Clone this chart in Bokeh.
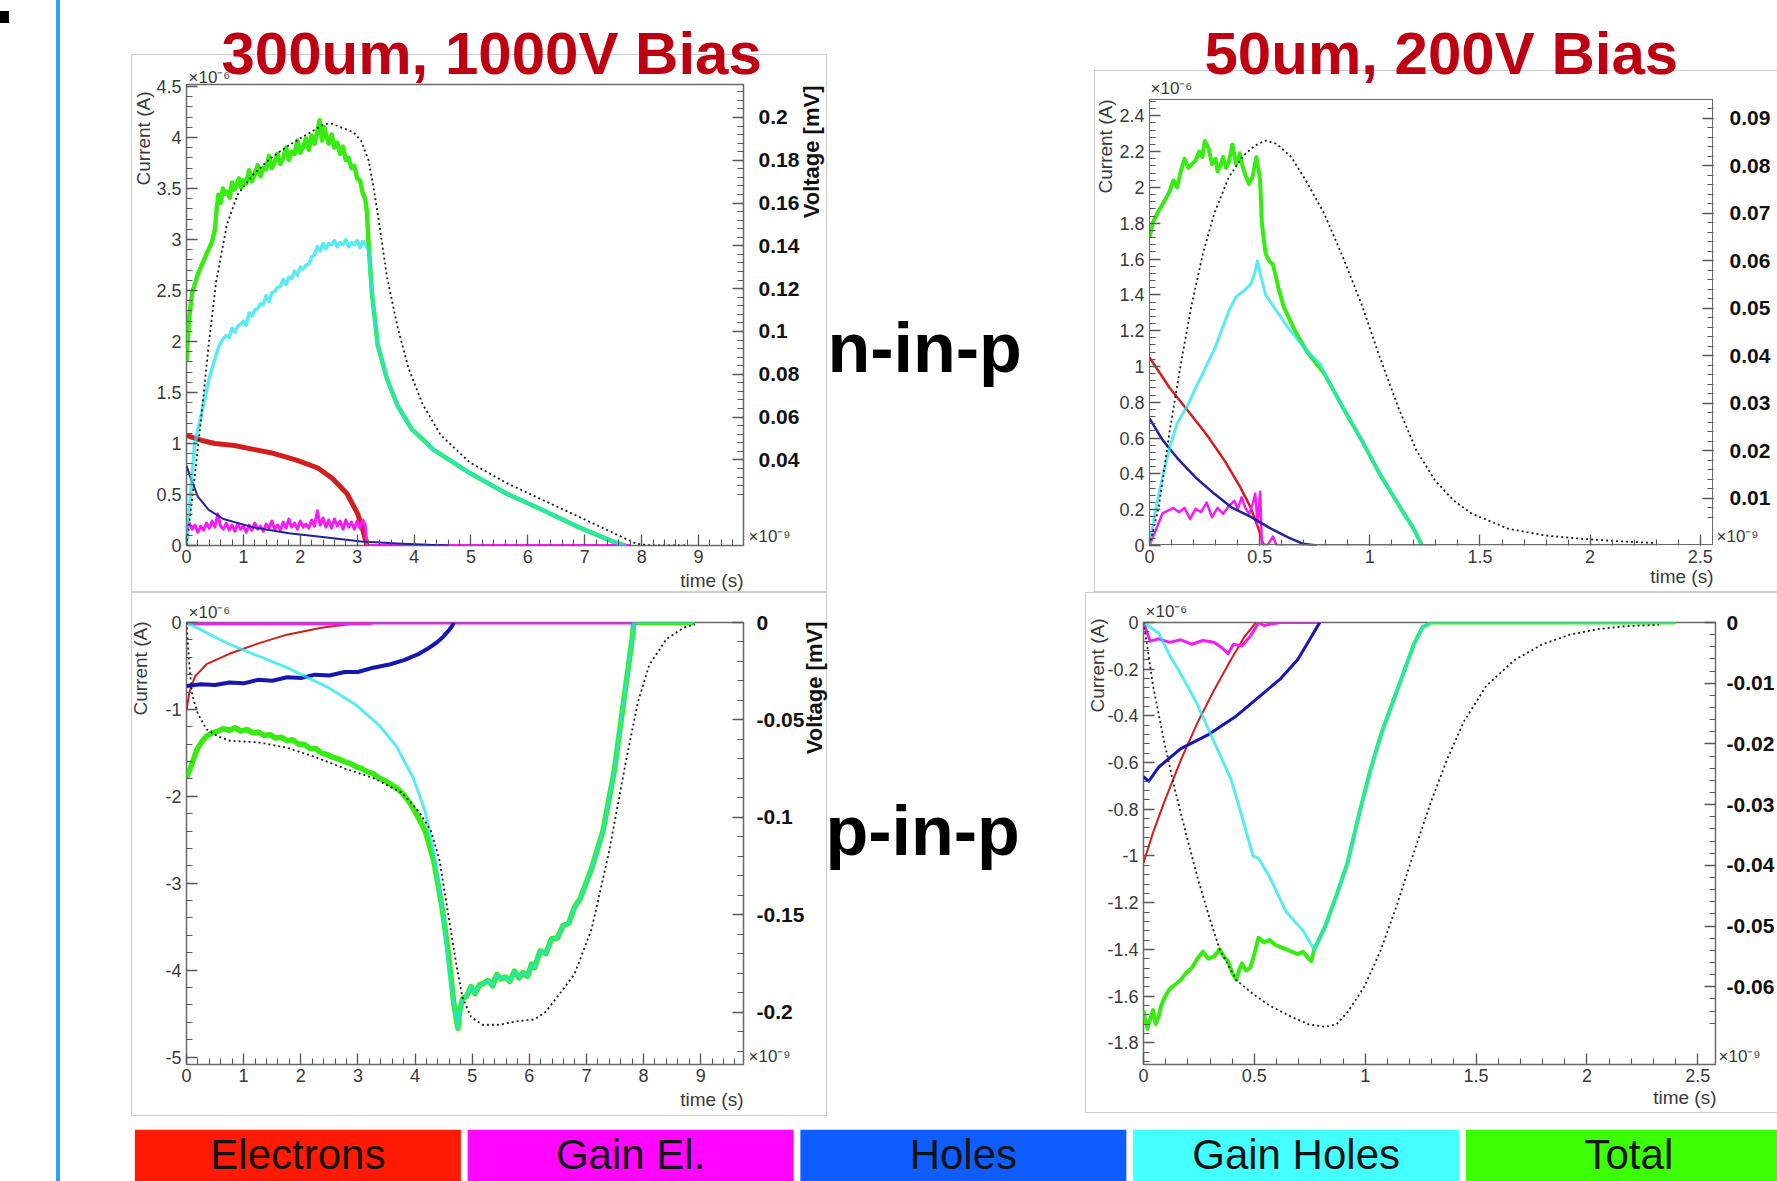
import math
import numpy as np
from bokeh.plotting import figure
from bokeh.models import (Range1d, LinearAxis, SingleIntervalTicker, FixedTicker,
                          PrintfTickFormatter, Label, LabelSet, Div, ColumnDataSource,
                          InlineStyleSheet, Spacer)
from bokeh.layouts import row, column
from bokeh.embed import file_html
from bokeh.resources import INLINE
from bokeh.core.properties import value

# ---------------- DATA (time in ns, current in uA, voltage in mV) ----------------
# n-in-p, 300um, 1000V
tl_green_t = [0.00, 0.04, 0.10, 0.20, 0.33, 0.45, 0.50, 0.53, 0.56, 0.60, 0.64, 0.68, 0.72, 0.76, 0.80,
              0.84, 0.88, 0.92, 0.96, 1.00, 1.05, 1.10, 1.15, 1.20, 1.25, 1.30, 1.35, 1.40, 1.45, 1.50,
              1.55, 1.60, 1.65, 1.70, 1.75, 1.80, 1.85, 1.90, 1.95, 2.00, 2.05, 2.10, 2.15, 2.20, 2.25,
              2.30, 2.34, 2.38, 2.42, 2.46, 2.50, 2.55, 2.60, 2.65, 2.70, 2.75, 2.80, 2.85, 2.90, 2.95,
              3.00, 3.05, 3.10, 3.14, 3.17, 3.20, 3.26, 3.36, 3.52, 3.71, 3.96, 4.34, 4.98, 5.62, 6.25,
              6.89, 7.53, 7.72]
tl_green_i = [1.80, 2.20, 2.48, 2.66, 2.83, 2.98, 3.10, 3.30, 3.44, 3.36, 3.50, 3.45, 3.47, 3.41, 3.56,
              3.49, 3.53, 3.60, 3.51, 3.58, 3.55, 3.68, 3.57, 3.64, 3.73, 3.62, 3.70, 3.69, 3.82, 3.70,
              3.76, 3.84, 3.74, 3.80, 3.90, 3.78, 3.86, 3.84, 3.97, 3.85, 3.91, 3.99, 3.88, 4.02, 3.94,
              4.06, 4.17, 3.97, 4.10, 4.01, 3.94, 4.03, 3.90, 3.95, 3.84, 3.91, 3.78, 3.80, 3.70, 3.72,
              3.60, 3.58, 3.45, 3.40, 3.28, 2.96, 2.47, 1.97, 1.64, 1.37, 1.14, 0.94, 0.71, 0.51, 0.35,
              0.18, 0.03, 0.00]
tl_cyan_t = [0.00, 0.14, 0.27, 0.40, 0.52, 0.58, 0.65, 0.70, 0.75, 0.80, 0.85, 0.90, 0.95, 1.00, 1.05,
             1.10, 1.15, 1.20, 1.25, 1.30, 1.35, 1.40, 1.45, 1.50, 1.55, 1.60, 1.65, 1.70, 1.75, 1.80,
             1.85, 1.90, 1.95, 2.00, 2.05, 2.10, 2.15, 2.20, 2.25, 2.30, 2.35, 2.40, 2.45, 2.50, 2.55,
             2.60, 2.65, 2.70, 2.75, 2.80, 2.85, 2.90, 2.95, 3.00, 3.05, 3.10, 3.15, 3.20, 3.26, 3.36,
             3.52, 3.71, 3.96, 4.34, 4.98, 5.62, 6.25, 6.89, 7.53, 7.72]
tl_cyan_i = [0.00, 0.98, 1.31, 1.64, 1.87, 1.97, 2.03, 2.06, 2.04, 2.13, 2.09, 2.15, 2.17, 2.20, 2.16,
             2.28, 2.25, 2.31, 2.32, 2.37, 2.36, 2.45, 2.39, 2.48, 2.49, 2.53, 2.54, 2.61, 2.56, 2.63,
             2.62, 2.69, 2.65, 2.73, 2.71, 2.75, 2.76, 2.83, 2.85, 2.93, 2.89, 2.96, 2.91, 2.96, 2.95,
             2.99, 2.93, 2.97, 2.95, 3.00, 2.93, 2.97, 2.95, 2.99, 2.92, 2.98, 2.95, 2.90, 2.47, 1.97,
             1.64, 1.37, 1.14, 0.94, 0.71, 0.51, 0.35, 0.18, 0.03, 0.00]
tl_red_t = [0.00, 0.10, 0.27, 0.50, 0.84, 1.20, 1.48, 1.92, 2.31, 2.56, 2.82, 3.01, 3.10, 3.17]
tl_red_i = [1.08, 1.06, 1.03, 1.00, 0.98, 0.94, 0.91, 0.84, 0.76, 0.66, 0.51, 0.31, 0.15, 0.00]
tl_blue_t = [0.00, 0.08, 0.20, 0.39, 0.65, 1.16, 1.80, 2.43, 3.07, 3.71, 4.34, 4.60]
tl_blue_i = [0.78, 0.65, 0.48, 0.35, 0.26, 0.18, 0.12, 0.08, 0.04, 0.02, 0.005, 0.00]
tl_mag_t = [0.00, 0.05, 0.10, 0.15, 0.20, 0.25, 0.30, 0.35, 0.40, 0.45, 0.50, 0.55, 0.60, 0.65, 0.70,
            0.75, 0.80, 0.85, 0.90, 0.95, 1.00, 1.05, 1.10, 1.15, 1.20, 1.25, 1.30, 1.35, 1.40, 1.45,
            1.50, 1.55, 1.60, 1.65, 1.70, 1.75, 1.80, 1.85, 1.90, 1.95, 2.00, 2.05, 2.10, 2.15, 2.20,
            2.25, 2.30, 2.35, 2.40, 2.45, 2.50, 2.55, 2.60, 2.65, 2.70, 2.75, 2.80, 2.85, 2.90, 2.95,
            3.00, 3.05, 3.10, 3.14, 3.17, 7.80]
tl_mag_i = [0.14, 0.22, 0.16, 0.20, 0.13, 0.19, 0.15, 0.22, 0.17, 0.24, 0.18, 0.31, 0.19, 0.16, 0.22,
            0.15, 0.20, 0.14, 0.21, 0.16, 0.19, 0.13, 0.20, 0.15, 0.22, 0.16, 0.19, 0.14, 0.21, 0.17,
            0.24, 0.16, 0.20, 0.15, 0.23, 0.17, 0.26, 0.18, 0.22, 0.16, 0.24, 0.18, 0.21, 0.17, 0.25,
            0.19, 0.34, 0.20, 0.27, 0.18, 0.25, 0.17, 0.26, 0.19, 0.24, 0.16, 0.25, 0.18, 0.23, 0.16,
            0.24, 0.17, 0.25, 0.20, 0.00, 0.00]
tl_volt_t = [0.00, 0.14, 0.27, 0.39, 0.52, 0.71, 0.90, 1.16, 1.48, 1.80, 2.11, 2.43, 2.56, 2.75, 2.94,
             3.07, 3.20, 3.29, 3.39, 3.52, 3.71, 3.90, 4.15, 4.47, 4.98, 5.62, 6.25, 6.89, 7.53, 7.91,
             8.17, 8.80]
tl_volt_v = [0.000, 0.031, 0.0625, 0.094, 0.123, 0.150, 0.164, 0.173, 0.181, 0.187, 0.192, 0.197, 0.197,
             0.195, 0.193, 0.189, 0.180, 0.167, 0.150, 0.126, 0.102, 0.083, 0.066, 0.0515, 0.0388,
             0.0293, 0.0214, 0.0135, 0.0055, 0.0008, 0.0, 0.0]

# n-in-p, 50um, 200V
tr_green_t = [0.000, 0.017, 0.042, 0.075, 0.092, 0.109, 0.125, 0.142, 0.159, 0.176, 0.192, 0.209, 0.226,
              0.240, 0.251, 0.268, 0.284, 0.300, 0.309, 0.322, 0.334, 0.347, 0.360, 0.376, 0.393, 0.410,
              0.422, 0.435, 0.452, 0.468, 0.485, 0.495, 0.502, 0.510, 0.527, 0.543, 0.560, 0.574, 0.585,
              0.610, 0.660, 0.711, 0.761, 0.794, 0.878, 0.962, 1.045, 1.129, 1.196, 1.237]
tr_green_i = [1.72, 1.81, 1.87, 1.94, 1.98, 2.04, 2.00, 2.09, 2.16, 2.11, 2.13, 2.15, 2.20,
              2.17, 2.26, 2.22, 2.13, 2.16, 2.09, 2.12, 2.17, 2.11, 2.14, 2.24, 2.13, 2.19,
              2.12, 2.07, 2.02, 2.06, 2.17, 2.10, 2.04, 1.80, 1.63, 1.59, 1.57, 1.50, 1.44,
              1.33, 1.20, 1.09, 1.01, 0.96, 0.77, 0.59, 0.40, 0.23, 0.10, 0.00]
tr_cyan_t = [0.000, 0.025, 0.059, 0.092, 0.125, 0.176, 0.209, 0.242, 0.276, 0.293, 0.326, 0.360, 0.393,
             0.426, 0.460, 0.477, 0.490, 0.502, 0.527, 0.577, 0.627, 0.711, 0.778, 0.794, 0.878, 0.962,
             1.045, 1.129, 1.196, 1.237, 2.300]
tr_cyan_i = [0.00, 0.18, 0.38, 0.55, 0.68, 0.79, 0.88, 0.96, 1.05, 1.09, 1.20, 1.31, 1.39,
             1.42, 1.46, 1.52, 1.59, 1.52, 1.40, 1.31, 1.22, 1.09, 1.01, 0.96, 0.77, 0.59,
             0.40, 0.23, 0.10, 0.00, 0.00]
tr_red_t = [0.000, 0.092, 0.176, 0.259, 0.343, 0.410, 0.460, 0.493, 0.518]
tr_red_i = [1.05, 0.88, 0.75, 0.62, 0.47, 0.33, 0.21, 0.10, 0.00]
tr_blue_t = [0.000, 0.059, 0.125, 0.209, 0.293, 0.376, 0.460, 0.543, 0.627, 0.694, 0.760]
tr_blue_i = [0.71, 0.59, 0.49, 0.38, 0.29, 0.21, 0.16, 0.10, 0.047, 0.01, 0.00]
tr_mag_t = [0.000, 0.033, 0.059, 0.084, 0.109, 0.134, 0.159, 0.184, 0.209, 0.234, 0.259, 0.284, 0.309,
            0.334, 0.360, 0.385, 0.401, 0.418, 0.435, 0.452, 0.468, 0.480, 0.490, 0.502, 0.510, 0.535,
            0.560, 0.577, 1.300]
tr_mag_i = [0.00, 0.10, 0.18, 0.195, 0.21, 0.186, 0.21, 0.149, 0.205, 0.186, 0.24, 0.158, 0.21,
            0.177, 0.22, 0.25, 0.205, 0.27, 0.21, 0.177, 0.23, 0.29, 0.12, 0.30, 0.01, 0.00,
            0.05, 0.00, 0.00]
tr_volt_t = [0.000, 0.042, 0.092, 0.142, 0.192, 0.242, 0.293, 0.360, 0.426, 0.477, 0.527, 0.577, 0.644,
             0.711, 0.794, 0.878, 0.962, 1.045, 1.129, 1.212, 1.296, 1.380, 1.463, 1.630, 1.798, 1.965,
             2.132, 2.299]
tr_volt_v = [0.0, 0.0081, 0.0242, 0.0382, 0.0509, 0.0614, 0.0698, 0.0776, 0.0821, 0.0842, 0.0853, 0.0846,
             0.0818, 0.0768, 0.0698, 0.0607, 0.0509, 0.0397, 0.0291, 0.0200, 0.0137, 0.0095, 0.0067,
             0.0035, 0.0021, 0.0014, 0.0009, 0.0005]

# p-in-p, 300um, 1000V
bl_green_t = [0.00, 0.05, 0.10, 0.15, 0.20, 0.28, 0.35, 0.45, 0.55, 0.65, 0.75, 0.85, 0.95, 1.06, 1.16,
              1.26, 1.36, 1.46, 1.56, 1.66, 1.76, 1.86, 1.96, 2.06, 2.16, 2.26, 2.36, 2.46, 2.56, 2.66,
              2.76, 2.86, 2.97, 3.07, 3.17, 3.27, 3.37, 3.47, 3.57, 3.67, 3.77, 3.87, 3.97, 4.07, 4.18,
              4.25, 4.33, 4.40, 4.48, 4.58, 4.68, 4.75, 4.78, 4.83, 4.90, 4.98, 5.05, 5.13, 5.20, 5.28,
              5.36, 5.43, 5.50, 5.58, 5.66, 5.74, 5.82, 5.89, 5.97, 6.04, 6.09, 6.19, 6.29, 6.39, 6.49,
              6.59, 6.69, 6.79, 6.89, 7.09, 7.29, 7.49, 7.65, 7.80, 7.83, 8.90]
bl_green_i = [-1.79, -1.70, -1.62, -1.52, -1.44, -1.36, -1.31, -1.27, -1.25, -1.22, -1.24, -1.21, -1.25,
              -1.23, -1.27, -1.26, -1.30, -1.29, -1.33, -1.32, -1.36, -1.35, -1.40, -1.40, -1.45, -1.45,
              -1.50, -1.52, -1.55, -1.57, -1.60, -1.62, -1.66, -1.68, -1.72, -1.74, -1.79, -1.82, -1.86,
              -1.90, -1.96, -2.04, -2.14, -2.26, -2.40, -2.56, -2.75, -3.00, -3.31, -3.79, -4.39, -4.67,
              -4.48, -4.33, -4.30, -4.19, -4.27, -4.17, -4.15, -4.12, -4.18, -4.05, -4.10, -4.08, -4.13,
              -4.01, -4.09, -4.03, -4.07, -3.93, -3.97, -3.78, -3.81, -3.64, -3.63, -3.49, -3.46, -3.28,
              -3.18, -2.83, -2.40, -1.70, -0.92, -0.19, 0.00, 0.00]
bl_cyan_t = [0.00, 0.75, 1.76, 2.46, 2.97, 3.37, 3.67, 3.97, 4.18, 4.33, 4.48, 4.63, 4.75, 4.78, 4.83,
             4.90, 4.98, 5.05, 5.13, 5.20, 5.28, 5.36, 5.43, 5.50, 5.58, 5.66, 5.74, 5.82, 5.89, 5.97,
             6.04, 6.09, 6.19, 6.29, 6.39, 6.49, 6.59, 6.69, 6.79, 6.89, 7.09, 7.29, 7.49, 7.65, 7.80,
             7.83, 8.90]
bl_cyan_i = [0.00, -0.25, -0.52, -0.74, -0.95, -1.18, -1.42, -1.79, -2.18, -2.66, -3.31, -4.18, -4.67,
             -4.48, -4.33, -4.30, -4.19, -4.27, -4.17, -4.15, -4.12, -4.18, -4.05, -4.10, -4.08, -4.13,
             -4.01, -4.09, -4.03, -4.07, -3.93, -3.97, -3.78, -3.81, -3.64, -3.63, -3.49, -3.46, -3.28,
             -3.18, -2.83, -2.40, -1.70, -0.92, -0.19, 0.00, 0.00]
bl_red_t = [0.00, 0.05, 0.15, 0.35, 0.75, 1.26, 1.76, 2.36, 2.90, 3.17]
bl_red_i = [-1.01, -0.80, -0.62, -0.48, -0.36, -0.24, -0.14, -0.06, -0.015, 0.00]
bl_blue_t = [0.00, 0.25, 0.50, 0.75, 1.00, 1.25, 1.50, 1.76, 2.00, 2.25, 2.50, 2.77, 3.00, 3.27, 3.57,
             3.82, 4.07, 4.25, 4.38, 4.50, 4.58, 4.64, 4.68]
bl_blue_i = [-0.73, -0.71, -0.72, -0.69, -0.70, -0.66, -0.67, -0.63, -0.64, -0.60, -0.61, -0.57, -0.57,
             -0.52, -0.48, -0.43, -0.36, -0.29, -0.23, -0.16, -0.10, -0.05, 0.00]
bl_mag_t = [0.00, 3.20, 3.25, 7.90]
bl_mag_i = [-0.01, -0.01, 0.00, 0.00]
bl_volt_t = [0.00, 0.05, 0.10, 0.20, 0.35, 0.55, 0.75, 1.26, 1.76, 2.26, 2.77, 3.27, 3.77, 4.07, 4.28,
             4.43, 4.58, 4.73, 4.83, 4.98, 5.18, 5.48, 5.78, 6.09, 6.29, 6.49, 6.79, 7.09, 7.39, 7.70,
             7.90, 8.10, 8.40, 8.70, 8.90]
bl_volt_v = [0.0, -0.0218, -0.0374, -0.0468, -0.0548, -0.0584, -0.0606, -0.0615, -0.0642, -0.0691,
             -0.0749, -0.0798, -0.0873, -0.0971, -0.1069, -0.1221, -0.1493, -0.1765, -0.1921, -0.2023,
             -0.2063, -0.2063, -0.2045, -0.2036, -0.1996, -0.1921, -0.1805, -0.1573, -0.1185, -0.0700,
             -0.0410, -0.0218, -0.0085, -0.0027, -0.0009]

# p-in-p, 50um, 200V
br_green_t = [0.000, 0.005, 0.018, 0.030, 0.043, 0.055, 0.068, 0.080, 0.093, 0.105, 0.118, 0.143, 0.168,
              0.193, 0.218, 0.243, 0.268, 0.293, 0.318, 0.344, 0.362, 0.381, 0.400, 0.419, 0.431, 0.444,
              0.462, 0.481, 0.500, 0.519, 0.544, 0.569, 0.594, 0.619, 0.645, 0.670, 0.695, 0.720, 0.745,
              0.757, 0.770, 0.820, 0.870, 0.920, 0.970, 1.021, 1.071, 1.121, 1.171, 1.221, 1.259, 1.296,
              2.400]
br_green_i = [-1.66, -1.69, -1.74, -1.70, -1.66, -1.72, -1.69, -1.64, -1.61, -1.59, -1.57, -1.55, -1.53,
              -1.50, -1.48, -1.44, -1.41, -1.44, -1.43, -1.40, -1.43, -1.45, -1.50, -1.53, -1.49, -1.46,
              -1.49, -1.48, -1.42, -1.35, -1.37, -1.36, -1.38, -1.39, -1.40, -1.41, -1.42, -1.41, -1.44,
              -1.45, -1.40, -1.30, -1.17, -1.03, -0.83, -0.64, -0.48, -0.35, -0.22, -0.09, -0.02, 0.00,
              0.00]
br_cyan_t = [0.000, 0.068, 0.118, 0.168, 0.243, 0.318, 0.394, 0.444, 0.494, 0.519, 0.569, 0.644, 0.720,
             0.770, 0.820, 0.870, 0.920, 0.970, 1.021, 1.071, 1.121, 1.171, 1.221, 1.259, 1.296, 2.400]
br_cyan_i = [0.00, -0.045, -0.14, -0.22, -0.35, -0.51, -0.67, -0.83, -1.00, -1.01, -1.09, -1.24, -1.32,
             -1.40, -1.30, -1.17, -1.03, -0.83, -0.64, -0.48, -0.35, -0.22, -0.09, -0.02, 0.00, 0.00]
br_red_t = [0.000, 0.043, 0.093, 0.168, 0.243, 0.318, 0.394, 0.456, 0.507]
br_red_i = [-1.03, -0.90, -0.77, -0.59, -0.43, -0.29, -0.16, -0.06, 0.00]
br_blue_t = [0.000, 0.023, 0.068, 0.168, 0.293, 0.419, 0.544, 0.619, 0.695, 0.745, 0.795]
br_blue_i = [-0.66, -0.68, -0.62, -0.54, -0.48, -0.40, -0.30, -0.24, -0.16, -0.08, 0.00]
br_mag_t = [0.000, 0.030, 0.068, 0.118, 0.168, 0.218, 0.268, 0.318, 0.356, 0.381, 0.406, 0.444, 0.481,
            0.494, 0.519, 0.544, 0.582, 0.619, 0.800]
br_mag_i = [0.00, -0.08, -0.07, -0.085, -0.074, -0.093, -0.077, -0.085, -0.11, -0.134, -0.093, -0.10,
            -0.06, -0.04, 0.00, -0.013, -0.005, 0.00, 0.00]
br_volt_t = [0.000, 0.018, 0.043, 0.093, 0.143, 0.193, 0.243, 0.293, 0.344, 0.419, 0.494, 0.569, 0.670,
             0.745, 0.820, 0.870, 0.920, 0.996, 1.071, 1.146, 1.221, 1.296, 1.372, 1.447, 1.547, 1.673,
             1.798, 1.923, 2.049, 2.174, 2.324]
br_volt_v = [0.0, -0.0042, -0.0104, -0.0196, -0.0277, -0.0350, -0.0419, -0.0481, -0.0539, -0.0589,
             -0.0612, -0.0631, -0.0650, -0.0662, -0.0666, -0.0662, -0.0642, -0.0600, -0.0539, -0.0462,
             -0.0377, -0.0296, -0.0223, -0.0162, -0.0104, -0.0062, -0.0036, -0.0020, -0.0011, -0.0006,
             -0.0004]

titles = ["300um, 1000V Bias", "50um, 200V Bias"]
row_labels = ["n-in-p", "p-in-p"]
legend_names = ["Electrons", "Gain El.", "Holes", "Gain Holes", "Total"]
legend_colors = ["#ff1a06", "#ff06ff", "#0f5dff", "#44ffff", "#3cff06"]

# ---------------- STYLE ----------------
SANS = "Liberation Sans, Arial, Helvetica, sans-serif"
C_GREEN = "#36ec10"
C_CYAN = "#22e4f0"
C_RED = "#d41e1e"
C_MAG = "#f41cf4"
C_NAVY = "#22229c"
C_BLUE = "#1616b4"
TITLE_RED = "#bf0012"
AX_TXT = "#3a3a3a"
FRAME = "#6a6a6a"


def box_sheet(top, bottom, right, frame=None):
    css = (":host{position:relative;}"
           ":host::after{content:'';position:absolute;left:0;top:%dpx;bottom:%dpx;right:%dpx;"
           "border:1px solid #cdcdcd;pointer-events:none;}" % (top, bottom, right))
    if frame is not None:
        css += (":host::before{content:'';position:absolute;left:%dpx;top:%dpx;right:%dpx;"
                "bottom:%dpx;border:1.5px solid %s;z-index:2;pointer-events:none;}"
                % (frame[0], frame[1], frame[2], frame[3], FRAME))
    return InlineStyleSheet(css=css)


def style_axis(ax, size, bold, color, standoff):
    ax.axis_line_color = None
    ax.major_tick_in = 11
    ax.major_tick_out = 0
    ax.minor_tick_in = 6
    ax.minor_tick_out = 0
    ax.major_tick_line_color = "#585858"
    ax.minor_tick_line_color = "#585858"
    ax.major_tick_line_width = 1.3
    ax.minor_tick_line_width = 1.1
    ax.major_label_text_font = SANS
    ax.major_label_text_font_size = f"{size}px"
    ax.major_label_text_font_style = "bold" if bold else "normal"
    ax.major_label_text_color = color
    ax.major_label_standoff = standoff
    ax.formatter = PrintfTickFormatter(format="%.3g")


def panel(w, h, xr, yr, vr, mb, x_int, y_ticker, v_ticker, v_standoff, css, lines, volt,
          outline=True):
    p = figure(width=w, height=h, x_range=Range1d(*xr), y_range=Range1d(*yr), title=None,
               x_axis_type=None, y_axis_type=None, toolbar_location=None,
               output_backend="svg", min_border_left=mb[0], min_border_right=mb[1],
               min_border_top=mb[2], min_border_bottom=mb[3],
               outline_line_color=FRAME if outline else None, outline_line_width=1.5,
               background_fill_color="white", border_fill_color="white",
               stylesheets=[css])
    p.extra_y_ranges = {"volt": Range1d(*vr)}
    xa = LinearAxis(ticker=SingleIntervalTicker(interval=x_int, num_minor_ticks=5))
    ya = LinearAxis(ticker=y_ticker)
    va = LinearAxis(y_range_name="volt", ticker=v_ticker)
    style_axis(xa, 18, False, AX_TXT, 4)
    style_axis(ya, 18, False, AX_TXT, 5)
    style_axis(va, 21, True, "#111111", v_standoff)
    p.add_layout(xa, "below")
    p.add_layout(ya, "left")
    p.add_layout(va, "right")
    for t, i, col, lw, alpha in lines:
        p.line(t, i, line_color=col, line_width=lw, line_alpha=alpha, line_join="round")
    p.line(volt[0], volt[1], y_range_name="volt", line_color="#1e1e1e", line_width=1.8,
           line_dash="2 3")
    return p


# top row shares frame top (84) and bottom (545); bottom row shares top (622) and bottom (1064)
tl = panel(696, 592, (0, 9.79), (0, 4.52), (0, 0.2154), (55, 84, 84, 47), 1,
           SingleIntervalTicker(interval=0.5, num_minor_ticks=5),
           FixedTicker(ticks=[0.04, 0.06, 0.08, 0.10, 0.12, 0.14, 0.16, 0.18, 0.20],
                       minor_ticks=list(np.round(np.arange(0.024, 0.2141, 0.004), 4))),
           15, box_sheet(54, 0, 0),
           [(tl_green_t, tl_green_i, C_GREEN, 4.5, 1.0),
            (tl_red_t, tl_red_i, C_RED, 5, 1.0),
            (tl_mag_t, tl_mag_i, C_MAG, 3, 1.0),
            (tl_blue_t, tl_blue_i, C_NAVY, 2, 1.0),
            (tl_cyan_t, tl_cyan_i, C_CYAN, 3.5, 0.75)],
           (tl_volt_t, tl_volt_v))

# the visible frame of this panel starts lower (y=99), drawn as a css box
tr = panel(683, 592, (0, 2.56), (0, 2.575), (0, 0.0971), (55, 64, 84, 47), 0.5,
           FixedTicker(ticks=list(np.round(np.arange(0, 2.41, 0.2), 2)),
                       minor_ticks=list(np.round(np.arange(0, 2.481, 0.04), 2))),
           FixedTicker(ticks=[0.01, 0.02, 0.03, 0.04, 0.05, 0.06, 0.07, 0.08, 0.09],
                       minor_ticks=list(np.round(np.arange(0.006, 0.0935, 0.002), 4))),
           16, box_sheet(70, 0, -10, frame=(55, 99, 64, 47)),
           [(tr_green_t, tr_green_i, C_GREEN, 4, 1.0),
            (tr_red_t, tr_red_i, C_RED, 2.5, 1.0),
            (tr_mag_t, tr_mag_i, C_MAG, 2.5, 1.0),
            (tr_blue_t, tr_blue_i, C_NAVY, 2.5, 1.0),
            (tr_cyan_t, tr_cyan_i, C_CYAN, 3, 0.75)],
           (tr_volt_t, tr_volt_v), outline=False)

bl = panel(696, 536, (0, 9.75), (-5.086, 0), (-0.2267, 0), (55, 84, 30, 64), 1,
           SingleIntervalTicker(interval=1, num_minor_ticks=5),
           SingleIntervalTicker(interval=0.05, num_minor_ticks=5),
           13, box_sheet(0, 12, 0),
           [(bl_green_t, bl_green_i, C_GREEN, 5.5, 1.0),
            (bl_red_t, bl_red_i, C_RED, 2, 1.0),
            (bl_mag_t, bl_mag_i, C_MAG, 4, 1.0),
            (bl_blue_t, bl_blue_i, C_BLUE, 4, 1.0),
            (bl_cyan_t, bl_cyan_i, C_CYAN, 3, 0.75)],
           (bl_volt_t, bl_volt_v))

br = panel(692, 536, (0, 2.58), (-1.893, 0), (-0.0728, 0), (58, 61, 30, 64), 0.5,
           SingleIntervalTicker(interval=0.2, num_minor_ticks=5),
           FixedTicker(ticks=[0, -0.01, -0.02, -0.03, -0.04, -0.05, -0.06],
                       minor_ticks=list(np.round(np.arange(0, -0.0661, -0.002), 4))),
           11, box_sheet(0, 15, -10),
           [(br_green_t, br_green_i, C_GREEN, 4, 1.0),
            (br_red_t, br_red_i, C_RED, 2, 1.0),
            (br_mag_t, br_mag_i, C_MAG, 3, 1.0),
            (br_blue_t, br_blue_i, C_BLUE, 3, 1.0),
            (br_cyan_t, br_cyan_i, C_CYAN, 3, 0.75)],
           (br_volt_t, br_volt_v))

# legend bar
unit = 332.75
leg = figure(width=1646, height=53, x_range=Range1d(0, 1646 / unit), y_range=Range1d(0, 1),
             title=None, x_axis_type=None, y_axis_type=None, toolbar_location=None,
             output_backend="svg", min_border=0, outline_line_color=None,
             background_fill_color="white", border_fill_color="white")
leg_x = [k + 0.5 for k in range(len(legend_names))]
leg.vbar(x=leg_x, width=326 / unit, bottom=-0.5, top=0.975, fill_color=legend_colors,
         line_color=None)
leg_src = ColumnDataSource(dict(x=leg_x, y=[0.24] * len(legend_names), text=legend_names))
leg.add_layout(LabelSet(x="x", y="y", text="text", source=leg_src,
                        text_align="center", text_baseline="alphabetic",
                        text_font=value(SANS), text_font_size=value("42px"),
                        text_color="#141414"))

strip = Div(width=131, height=1181, margin=0,
            text='<div style="position:absolute;left:0;top:11px;width:9px;height:12px;'
                 'background:#000"></div>'
                 '<div style="position:absolute;left:56px;top:0;width:1px;height:1181px;'
                 'border-left:2px solid #2aa6ee;border-right:2px solid #2aa6ee;'
                 'background:#d8f0fc"></div>')

layout = row(strip,
             column(row(tl, Spacer(width=267, height=592), tr),
                    row(bl, Spacer(width=258, height=536), br),
                    leg))

# ---------------- overlay with the free-floating texts (page pixel coordinates) ----------------
ov = figure(width=1777, height=1181, x_range=Range1d(0, 1777), y_range=Range1d(1181, 0),
            title=None, x_axis_type=None, y_axis_type=None, toolbar_location=None,
            output_backend="svg", min_border=0, outline_line_color=None,
            background_fill_color=None, border_fill_color=None,
            styles={"position": "absolute", "left": "0px", "top": "0px", "z-index": "10",
                    "pointer-events": "none"})


def txt(text, x, y, size, color=AX_TXT, bold=False, align="left", angle=0.0):
    ov.add_layout(Label(x=x, y=y, text=text, text_font=SANS, text_font_size=f"{size}px",
                        text_font_style="bold" if bold else "normal", text_color=color,
                        text_align=align, text_baseline="middle", angle=angle))


E6 = "\u00d710\u207b\u2076"
E9 = "\u00d710\u207b\u2079"
for (x, y) in [(188, 77), (1150, 88), (188, 612), (1145, 611)]:
    txt(E6, x, y, 17)
for (x, y) in [(748, 536), (1716, 536), (748, 1056), (1718, 1056)]:
    txt(E9, x, y, 17)
for (x, y) in [(743, 580), (1713, 576), (743, 1099), (1716, 1097)]:
    txt("time (s)", x, y, 19, align="right")
for (x, y) in [(143, 91), (1105, 99), (140, 621), (1097, 618)]:
    txt("Current (A)", x, y, 19, align="right", angle=math.pi / 2)
for (x, y) in [(811, 85), (814, 621)]:
    txt("Voltage [mV]", x, y, 22, color="#111111", bold=True, align="right", angle=math.pi / 2)
txt(titles[0], 221, 53, 60, color=TITLE_RED, bold=True)
txt(titles[1], 1204, 53, 60, color=TITLE_RED, bold=True)
txt(row_labels[0], 827, 347, 70, color="#000000", bold=True)
txt(row_labels[1], 825, 830, 70, color="#000000", bold=True)

open("out.html", "w").write(file_html([layout, ov], INLINE))
